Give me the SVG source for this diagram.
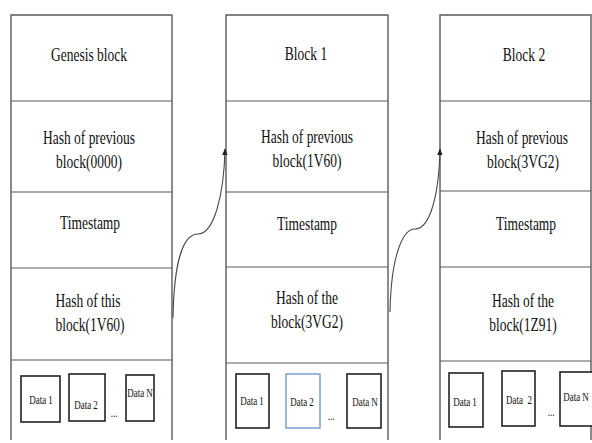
<svg xmlns="http://www.w3.org/2000/svg" width="592" height="443" viewBox="0 0 592 443">
  <style>
    .frame { fill: none; stroke: #5a5a5a; stroke-width: 1.4; }
    .div { stroke: #5a5a5a; stroke-width: 1.2; }
    .data { fill: #ffffff; stroke: #222222; stroke-width: 1.6; }
    .data-blue { fill: #ffffff; stroke: #6f9ccc; stroke-width: 1.4; }
    text { font-family: "Liberation Serif", "Times New Roman", serif; fill: #111111; text-anchor: middle; }
    .t { font-size: 18px; }
    .s { font-size: 12px; }
    .link { fill: none; stroke: #4a4a4a; stroke-width: 1.1; }
  </style>
  <defs>
    <marker id="arrow" viewBox="0 0 10 10" refX="9" refY="5" markerWidth="7" markerHeight="7" orient="auto" markerUnits="userSpaceOnUse">
      <path d="M0,1 L10,5 L0,9 z" fill="#222222"/>
    </marker>
  </defs>
  <rect width="592" height="443" fill="#ffffff"/>

  <!-- Genesis block -->
  <g id="block0">
    <path class="frame" d="M11,440 V15 H172 V440"/>
    <line class="div" x1="11" y1="101" x2="172" y2="101"/>
    <line class="div" x1="11" y1="192" x2="172" y2="192"/>
    <line class="div" x1="11" y1="268" x2="172" y2="268"/>
    <line class="div" x1="11" y1="360" x2="172" y2="360"/>
    <text class="t" transform="translate(89,61) scale(0.75,1)">Genesis block</text>
    <text class="t" transform="translate(89,144) scale(0.75,1)">Hash of previous</text>
    <text class="t" transform="translate(89,168) scale(0.75,1)">block(0000)</text>
    <text class="t" transform="translate(90,229) scale(0.75,1)">Timestamp</text>
    <text class="t" transform="translate(88,307) scale(0.75,1)">Hash of this</text>
    <text class="t" transform="translate(90,331) scale(0.75,1)">block(1V60)</text>
    <rect class="data" x="21" y="376" width="39" height="46"/>
    <rect class="data" x="69" y="374" width="36" height="47"/>
    <rect class="data" x="126" y="375" width="28" height="46"/>
    <text class="s" transform="translate(41,404) scale(0.75,1)">Data 1</text>
    <text class="s" transform="translate(86,409) scale(0.75,1)">Data 2</text>
    <text class="s" transform="translate(140,397) scale(0.75,1)">Data N</text>
    <text class="s" transform="translate(114,417) scale(0.75,1)">...</text>
  </g>

  <!-- Block 1 -->
  <g id="block1">
    <path class="frame" d="M226,440 V15 H388 V440"/>
    <line class="div" x1="226" y1="101" x2="388" y2="101"/>
    <line class="div" x1="226" y1="192" x2="388" y2="192"/>
    <line class="div" x1="226" y1="267" x2="388" y2="267"/>
    <line class="div" x1="226" y1="363" x2="388" y2="363"/>
    <text class="t" transform="translate(306,60) scale(0.75,1)">Block 1</text>
    <text class="t" transform="translate(307,143) scale(0.75,1)">Hash of previous</text>
    <text class="t" transform="translate(307,167) scale(0.75,1)">block(1V60)</text>
    <text class="t" transform="translate(307,230) scale(0.75,1)">Timestamp</text>
    <text class="t" transform="translate(307,304) scale(0.75,1)">Hash of the</text>
    <text class="t" transform="translate(307,328) scale(0.75,1)">block(3VG2)</text>
    <rect class="data" x="236" y="374" width="33" height="54"/>
    <rect class="data-blue" x="286" y="374" width="34" height="54"/>
    <rect class="data" x="347" y="374" width="34" height="54"/>
    <text class="s" transform="translate(252,405) scale(0.75,1)">Data 1</text>
    <text class="s" transform="translate(302,406) scale(0.75,1)">Data 2</text>
    <text class="s" transform="translate(365,406) scale(0.75,1)">Data N</text>
    <text class="s" transform="translate(331,420) scale(0.75,1)">...</text>
  </g>

  <!-- Block 2 -->
  <g id="block2">
    <path class="frame" d="M440,440 V15 H591 V440"/>
    <line class="div" x1="440" y1="101" x2="591" y2="101"/>
    <line class="div" x1="440" y1="191" x2="591" y2="191"/>
    <line class="div" x1="440" y1="267" x2="591" y2="267"/>
    <line class="div" x1="440" y1="361" x2="591" y2="361"/>
    <text class="t" transform="translate(524,61) scale(0.75,1)">Block 2</text>
    <text class="t" transform="translate(522,144) scale(0.75,1)">Hash of previous</text>
    <text class="t" transform="translate(523,168) scale(0.75,1)">block(3VG2)</text>
    <text class="t" transform="translate(526,230) scale(0.75,1)">Timestamp</text>
    <text class="t" transform="translate(523,307) scale(0.75,1)">Hash of the</text>
    <text class="t" transform="translate(523,331) scale(0.75,1)">block(1Z91)</text>
    <rect class="data" x="449" y="373" width="34" height="54"/>
    <rect class="data" x="502" y="371" width="33" height="55"/>
    <rect class="data" x="560" y="372" width="40" height="54"/>
    <text class="s" transform="translate(465,406) scale(0.75,1)">Data 1</text>
    <text class="s" transform="translate(519,404) scale(0.75,1)" xml:space="preserve">Data  2</text>
    <text class="s" transform="translate(576,401) scale(0.75,1)">Data N</text>
    <text class="s" transform="translate(551,416) scale(0.75,1)">...</text>
  </g>

  <!-- Hash links between consecutive blocks -->
  <g id="connectors">
    <path class="link" marker-end="url(#arrow)" d="M173,318 C174,262 183,234 198,234 C214,234 224,195 225,149"/>
    <path class="link" marker-end="url(#arrow)" d="M390,312 C391,258 402,229 415,229 C430,229 439,195 440,149"/>
  </g>
</svg>
